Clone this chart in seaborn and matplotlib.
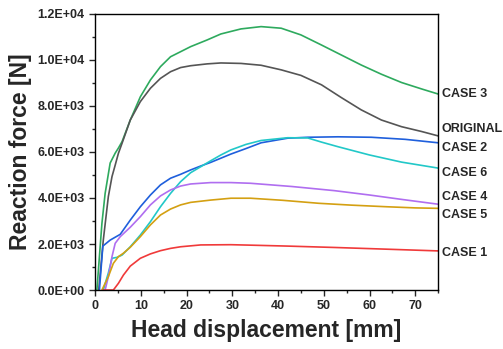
import pandas as pd
import matplotlib.pyplot as plt
import seaborn as sns
from matplotlib.ticker import MultipleLocator

case3_x = [0.4, 1.5, 2.2, 3.3, 4.4, 5.1, 5.9, 7.7, 9.9, 12.1, 14.3, 16.5, 18.7, 20.9, 24.5, 27.5,
           31.9, 36.3, 40.7, 45, 49.5, 53.8, 58.2, 62.6, 67, 71.4, 75]
case3_y = [0, 2900, 4200, 5520, 5950, 6170, 6450, 7390, 8400, 9130, 9710, 10140, 10360, 10580, 10870, 11130,
           11350, 11450, 11380, 11090, 10650, 10220, 9780, 9380, 9020, 8740, 8520]

orig_x = [0.8, 1.8, 2.9, 3.7, 4.4, 5.1, 5.9, 7.7, 9.9, 12.1, 14.3, 16.5, 18.7, 20.9, 24.5, 27.5,
          31.9, 36.3, 40.7, 45, 49.5, 53.8, 58.2, 62.6, 67, 71.4, 75]
orig_y = [0, 2170, 4060, 4930, 5430, 5940, 6380, 7390, 8190, 8770, 9200, 9490, 9670, 9750, 9830, 9870,
          9850, 9770, 9570, 9330, 8920, 8370, 7830, 7390, 7100, 6890, 6700]

case2_x = [0.95, 1.7, 3.3, 5.5, 7.7, 9.9, 12.1, 14.3, 16.5, 18.7, 20.9, 23.1, 25.3, 27.5, 29.7,
           33, 36.3, 42.1, 46.5, 53.1, 60.4, 67.8, 75]
case2_y = [0, 1910, 2170, 2420, 3040, 3620, 4130, 4570, 4860, 5030, 5220, 5390, 5550, 5730, 5910,
           6150, 6400, 6600, 6640, 6660, 6640, 6550, 6400]

case6_x = [1.8, 2.9, 3.7, 4.8, 5.9, 7.7, 9.9, 12.1, 14.3, 16.5, 18.7, 20.9, 23.1, 25.3, 27.5, 29.7,
           33, 36.3, 42.1, 46.5, 49.5, 53.1, 60, 67, 75]
case6_y = [0, 740, 1380, 1420, 1520, 1880, 2390, 2970, 3620, 4200, 4710, 5100, 5360, 5620, 5870, 6090,
           6330, 6500, 6620, 6610, 6430, 6230, 5870, 5560, 5300]

case4_x = [2.2, 2.9, 3.7, 4.4, 5.5, 7.7, 9.9, 12.1, 14.3, 16.5, 18.7, 20.9, 25.3, 29.7,
           34, 43, 52.3, 60, 67, 75]
case4_y = [0, 580, 1450, 2030, 2320, 2730, 3190, 3700, 4090, 4350, 4520, 4610, 4670, 4670,
           4640, 4500, 4320, 4130, 3940, 3730]

case5_x = [1.5, 2.9, 4, 5.1, 6.2, 7.7, 9.9, 12.1, 14.3, 16.5, 18.7, 20.9, 25.3, 29.7,
           34, 41, 48.9, 56, 63.7, 70, 75]
case5_y = [0, 580, 1160, 1450, 1600, 1860, 2320, 2830, 3260, 3520, 3700, 3810, 3910, 3990,
           3990, 3900, 3770, 3690, 3620, 3570, 3550]

case1_x = [1.8, 4.0, 5.1, 6.2, 7.7, 9.9, 12.1, 14.3, 16.5, 18.7, 23.1, 29.7, 34, 42, 52.3, 63, 75]
case1_y = [0, 0, 290, 650, 1040, 1380, 1570, 1710, 1810, 1880, 1960, 1970, 1950, 1910, 1850, 1780, 1700]

names = ['CASE 3', 'ORIGINAL', 'CASE 2', 'CASE 6', 'CASE 4', 'CASE 5', 'CASE 1']
xs = [case3_x, orig_x, case2_x, case6_x, case4_x, case5_x, case1_x]
ys = [case3_y, orig_y, case2_y, case6_y, case4_y, case5_y, case1_y]
colors = ['#2eaa5e', '#555555', '#1f5fdc', '#22c8c8', '#b06ef0', '#d4a012', '#f03a3a']
# right-hand label heights
label_y = [8500, 7000, 6190, 5100, 4030, 3260, 1600]

frames = []
for n, x, y in zip(names, xs, ys):
    frames.append(pd.DataFrame({'disp': x, 'force': y, 'case': n}))
data = pd.concat(frames, ignore_index=True)

sns.set_style("ticks")
plt.rcParams['font.family'] = ['Liberation Sans', 'DejaVu Sans']
plt.rcParams['font.weight'] = 'bold'

fig = plt.figure(figsize=(5.03, 3.49), dpi=100)
ax = fig.add_axes([0.189, 0.169, 0.682, 0.791])

sns.lineplot(data=data, x='disp', y='force', hue='case', hue_order=names,
             palette=colors, linewidth=1.2, legend=False, sort=False, ax=ax)

ax.set_xlim(0, 75)
ax.set_ylim(0, 12000)
ax.xaxis.set_major_locator(MultipleLocator(10))
ax.xaxis.set_minor_locator(MultipleLocator(5))
ax.yaxis.set_major_locator(MultipleLocator(2000))
ax.yaxis.set_minor_locator(MultipleLocator(1000))
ax.yaxis.set_major_formatter(plt.FuncFormatter(lambda v, p: f'{v:.1E}'))
ax.tick_params(which='major', direction='out', length=4, width=1, labelsize=9)
ax.tick_params(which='minor', direction='out', length=2.5, width=1)
for lab in ax.get_xticklabels() + ax.get_yticklabels():
    lab.set_fontweight('bold')
for s in ax.spines.values():
    s.set_linewidth(1)
    s.set_color('black')

ax.set_xlabel('Head displacement [mm]', fontsize=16.5, fontweight='bold', labelpad=5)
ax.set_ylabel('Reaction force [N]', fontsize=16.5, fontweight='bold', labelpad=4)

for n, ly in zip(names, label_y):
    ax.annotate(n, xy=(1.01, ly), xycoords=('axes fraction', 'data'),
                fontsize=9, fontweight='bold', va='center', ha='left',
                annotation_clip=False)

fig.savefig('out.png', dpi=100)
